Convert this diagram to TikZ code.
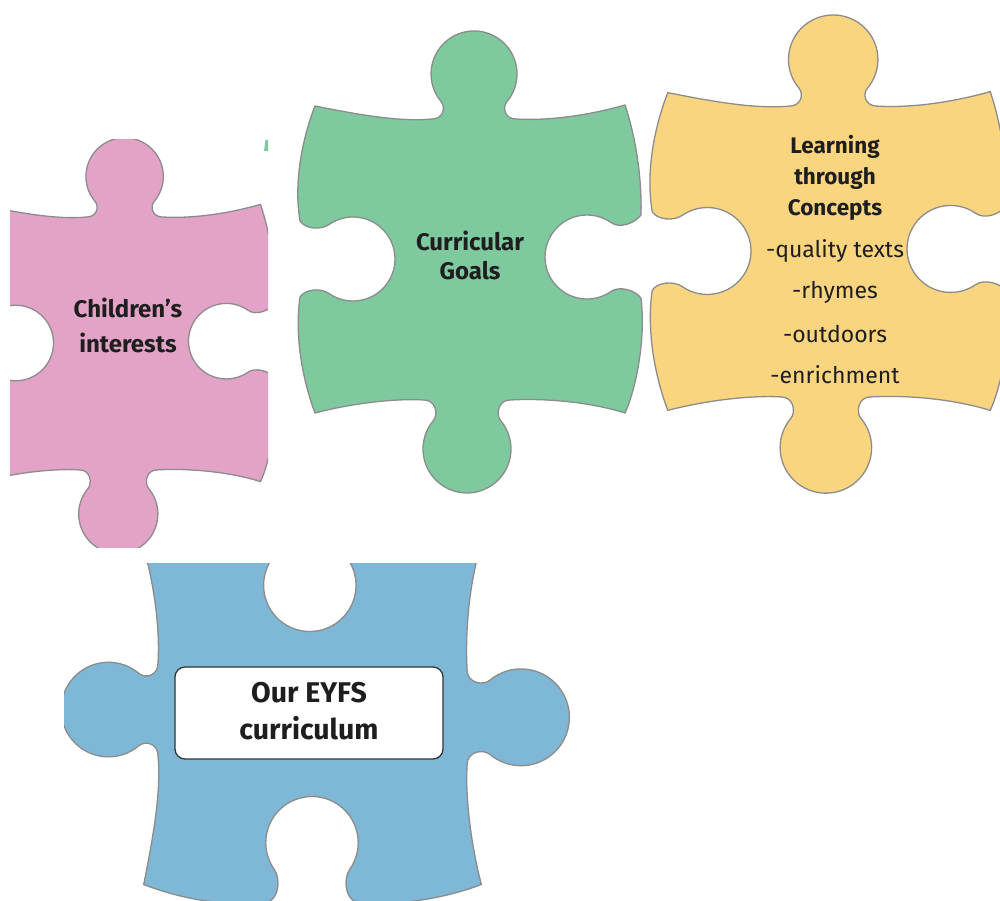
\documentclass[tikz,border=0pt]{standalone}
\usepackage{fontspec}
\newfontfamily\tw{Fira Sans}
\definecolor{pinkp}{HTML}{E2A3C7}
\definecolor{greenp}{HTML}{7EC99E}
\definecolor{yellowp}{HTML}{FAD580}
\definecolor{bluep}{HTML}{7FB7D6}
\definecolor{edgegray}{HTML}{8C8C8C}
\definecolor{textdark}{HTML}{1E1E1E}
\definecolor{boxborder}{HTML}{333333}
\newcommand{\puzzleshape}[2]{%
 \begin{scope}[#1]
 \filldraw[piece, #2] (-155,-153) .. controls (-110,-144) and (-70,-137) .. (-38,-140)
 .. controls (-27,-140) and (-23.8,-151.3) .. (-28.9,-157.4)
 arc[start angle=140, end angle=400, radius=43]
 .. controls (31.8,-151.3) and (35,-140) .. (46,-140)
 .. controls (80,-138) and (120,-144) .. (155,-154)
 .. controls (165,-124) and (172,-84) .. (171,-44)
 .. controls (165,-36) and (150,-30) .. (141.1,-36.4)
 arc[start angle=-55, end angle=-305, radius=42]
 .. controls (149.3,26.7) and (165,31) .. (171,39)
 .. controls (176,80) and (166,130) .. (155,154)
 .. controls (120,143) and (75,139) .. (40,141)
 .. controls (28,141) and (25.6,155.6) .. (30.7,161.7)
 arc[start angle=-40, end angle=220, radius=44]
 .. controls (-31.6,155.6) and (-34,141) .. (-46,141)
 .. controls (-80,139) and (-125,146) .. (-155,154)
 .. controls (-166,125) and (-176,80) .. (-170,38)
 .. controls (-165,30) and (-149.3,28.7) .. (-141.1,34.4)
 arc[start angle=125, end angle=-125, radius=42]
 .. controls (-149.3,-28.7) and (-165,-30) .. (-170,-38)
 .. controls (-177,-80) and (-166,-125) .. (-155,-153) -- cycle;
 \end{scope}}
\tikzset{
 piece/.style={draw=edgegray, line width=1.3pt},
 boldtxt/.style={font=\tw\bfseries\fontsize{#1}{#1}\selectfont, text=textdark, anchor=base, inner sep=0pt},
 plaintxt/.style={font=\tw\fontsize{#1}{#1}\selectfont, text=textdark, anchor=base, inner sep=0pt},
}
\begin{document}
\begin{tikzpicture}[x=1pt,y=-1pt]
\useasboundingbox (0,0) rectangle (1000,901);
\fill[white] (0,0) rectangle (1000,901);
% pink piece (cropped)
\begin{scope}
 \clip (10,140) rectangle (268,547);
 \puzzleshape{shift={(121,343)}, scale=0.9}{fill=pinkp}
\end{scope}
% green sliver
\fill[greenp] (264,151) -- (265.5,140) -- (268,140) -- (268,151) -- cycle;
% green piece
\puzzleshape{shift={(470,259)}}{fill=greenp}
% yellow piece
\puzzleshape{shift={(829,251)}, xscale=1.04, yscale=1.035}{fill=yellowp}
% blue piece (cropped)
\begin{scope}
 \clip (64,563) rectangle (1000,901);
 \puzzleshape{shift={(312,714)}, rotate=90, scale=1.1}{fill=bluep}
\end{scope}
\node[draw=boxborder, fill=white, rounded corners=10pt, line width=1.3pt, minimum width=268pt, minimum height=92pt, inner sep=0pt] (box) at (309,713) {};
% texts
\node[boldtxt=24] (ci1) at (128,317) {Children’s};
\node[boldtxt=24] (ci2) at (128,352) {interests};
\node[boldtxt=24] (cg1) at (470,251) {Curricular};
\node[boldtxt=24] (cg2) at (470,279) {Goals};
\node[boldtxt=22.5] (lc1) at (835,154) {Learning};
\node[boldtxt=22.5] (lc2) at (835,185) {through};
\node[boldtxt=22.5] (lc3) at (835,215) {Concepts};
\node[plaintxt=23] (li1) at (835,257) {-quality texts};
\node[plaintxt=23] (li2) at (835,298) {-rhymes};
\node[plaintxt=23] (li3) at (835,342) {-outdoors};
\node[plaintxt=23] (li4) at (835,383) {-enrichment};
\node[boldtxt=28.5] (eyfs1) at (309,702) {Our EYFS};
\node[boldtxt=28.5] (eyfs2) at (309,739) {curriculum};
\end{tikzpicture}
\end{document}
